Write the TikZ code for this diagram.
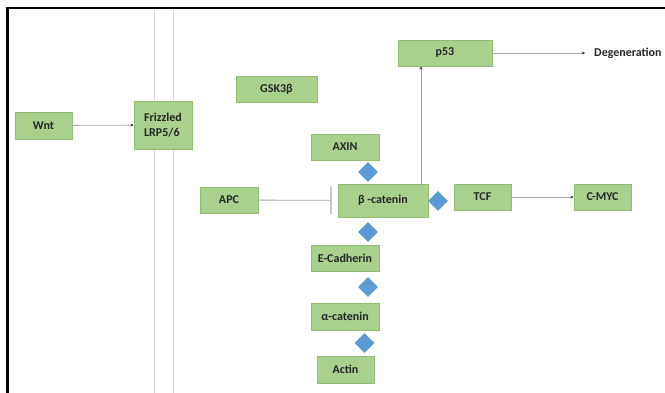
\documentclass[tikz,border=0pt]{standalone}
\usepackage{fontspec}
\setmainfont{Carlito}
\usetikzlibrary{arrows.meta,shapes.geometric}
\definecolor{boxfill}{HTML}{A9D18E}
\definecolor{boxline}{HTML}{93BD75}
\definecolor{linkgray}{HTML}{A6A6A6}
\definecolor{membrane}{HTML}{D9D9D9}
\definecolor{bindblue}{HTML}{5B9BD5}
\definecolor{labeltext}{HTML}{262626}
\tikzset{
  protein/.style={draw=boxline, fill=boxfill, line width=0.9pt, rectangle,
    inner sep=0pt, align=center, text=labeltext,
    font=\fontsize{12}{15}\selectfont\bfseries},
  binding/.style={diamond, fill=bindblue, draw=none, inner sep=0pt,
    minimum width=20pt, minimum height=20pt},
  link/.style={draw=linkgray, line width=0.8pt},
  arr/.style={link, -{Stealth[length=3pt,width=3pt,color=black!80]}},
  inhibit/.style={link, -{Bar[width=28pt,length=0pt,line width=1.2pt]}},
}
\begin{document}
\begin{tikzpicture}[x=1pt,y=-1pt]
  \useasboundingbox (0,0) rectangle (665,393);

  % frame
  \draw[black, line width=2.6pt] (7.5,393) -- (7.5,8) -- (665,8);

  % cell membrane
  \draw[membrane, line width=1.3pt] (154.5,9) -- (154.5,393);
  \draw[membrane, line width=1.3pt] (173.5,9) -- (173.5,393);

  % proteins
  \node[protein, minimum width=57pt, minimum height=27pt] (wnt) at (43.5,125.5) {Wnt};
  \node[protein, minimum width=58pt, minimum height=48pt, align=left] (friz) at (163,125) {Frizzled\\LRP5/6};
  \node[protein, minimum width=81pt, minimum height=26pt] (gsk) at (276.5,89) {GSK3β};
  \node[protein, minimum width=68pt, minimum height=26pt] (axin) at (345,147) {AXIN};
  \node[protein, minimum width=58pt, minimum height=26pt] (apc) at (229,200) {APC};
  \node[protein, minimum width=90pt, minimum height=33pt] (bcat) at (383,200.5) {β -catenin};
  \node[protein, minimum width=68pt, minimum height=26pt] (ecad) at (345,258) {E-Cadherin};
  \node[protein, minimum width=68pt, minimum height=27pt] (acat) at (345,316.5) {α-catenin};
  \node[protein, minimum width=57pt, minimum height=27pt] (actin) at (345.5,369.5) {Actin};
  \node[protein, minimum width=57pt, minimum height=26pt] (tcf) at (482.5,197) {TCF};
  \node[protein, minimum width=57pt, minimum height=26pt] (myc) at (602.5,197) {C-MYC};
  \node[protein, minimum width=94pt, minimum height=26pt] (p53) at (445,53) {p53};
  \node[text=labeltext, font=\fontsize{12}{15}\selectfont\bfseries, anchor=west, inner sep=0pt] (deg) at (594,53) {Degeneration};

  % binding sites
  \node[binding] (d1) at (368,172) {};
  \node[binding] (d2) at (368,232) {};
  \node[binding] (d3) at (368,287) {};
  \node[binding] (d4) at (364.5,343) {};
  \node[binding] (d5) at (438,201) {};

  % signalling links
  \draw[arr] (wnt) -- (friz);
  \draw[inhibit, shorten >=6pt] (apc) -- (bcat);
  \draw[arr] ([xshift=38pt]bcat.north) -- ([xshift=38pt]bcat.north |- p53.south);
  \draw[arr] (p53) -- ([xshift=-9pt]deg.west);
  \draw[arr] (tcf) -- (myc);
\end{tikzpicture}
\end{document}
